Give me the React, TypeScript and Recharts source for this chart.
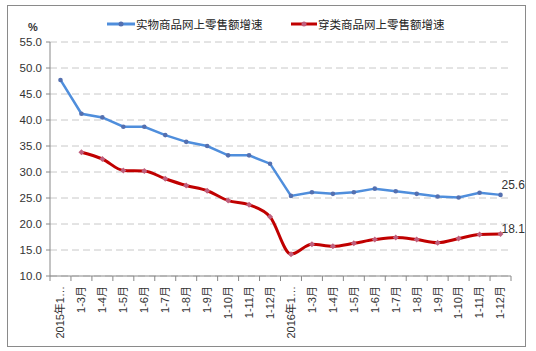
import { LineChart, Line, XAxis, YAxis, CartesianGrid, LabelList, Label } from "recharts"

// 分类（月份累计）
const months = [
  "2015年1…", "1-3月", "1-4月", "1-5月", "1-6月", "1-7月", "1-8月", "1-9月", "1-10月", "1-11月", "1-12月",
  "2016年1…", "1-3月", "1-4月", "1-5月", "1-6月", "1-7月", "1-8月", "1-9月", "1-10月", "1-11月", "1-12月",
]

// 实物商品网上零售额增速 (%)
const physicalGoods = [
  47.7, 41.2, 40.5, 38.7, 38.7, 37.1, 35.8, 35.0, 33.2, 33.2, 31.6,
  25.4, 26.1, 25.8, 26.1, 26.8, 26.3, 25.8, 25.3, 25.1, 26.0, 25.6,
]

// 穿类商品网上零售额增速 (%)
const clothingGoods = [
  null, 33.8, 32.5, 30.3, 30.2, 28.7, 27.4, 26.4, 24.5, 23.7, 21.4,
  14.2, 16.1, 15.7, 16.3, 17.0, 17.4, 17.0, 16.4, 17.2, 18.0, 18.1,
]

const yTicks = [10, 15, 20, 25, 30, 35, 40, 45, 50, 55]

const seriesNames = ["实物商品网上零售额增速", "穿类商品网上零售额增速"]

const BLUE = "#4F8EDC"
const RED = "#C00000"
const FONT = "'Liberation Sans', 'Noto Sans CJK SC', sans-serif"

const data = months.map((name, i) => ({
  name,
  physical: physicalGoods[i],
  clothing: clothingGoods[i],
}))

const lastIndex = data.length - 1

// plot is 461px wide; half a category slot on each side, like a category axis in Excel
const PLOT_W = 461
const HALF_SLOT = PLOT_W / (2 * data.length)

function MonthTick(props: any) {
  const { x, y, payload, index } = props
  const axisY = y - 10
  return (
    <g>
      <line x1={x - HALF_SLOT} x2={x - HALF_SLOT} y1={axisY} y2={axisY + 5} stroke="#888" />
      {index === lastIndex && (
        <line x1={x + HALF_SLOT} x2={x + HALF_SLOT} y1={axisY} y2={axisY + 5} stroke="#888" />
      )}
      <text
        x={x}
        y={y}
        transform={`rotate(-90 ${x} ${y})`}
        textAnchor="end"
        dy="0.35em"
        fontSize={11}
        fill="#333"
        fontFamily={FONT}
      >
        {payload.value}
      </text>
    </g>
  )
}

function EndLabel(offsetY: number) {
  return (p: any) => {
    if (p.index !== lastIndex) return null
    return (
      <text x={p.x + 1} y={p.y + offsetY} fontSize={12} fill="#333" fontFamily={FONT}>
        {Number(p.value).toFixed(1)}
      </text>
    )
  }
}

function RedDot(p: any) {
  const { cx, cy } = p
  if (cx == null || cy == null || p.value == null) return <g />
  return <path d={`M${cx},${cy - 3}L${cx + 3},${cy}L${cx},${cy + 3}L${cx - 3},${cy}Z`} fill="#C0607E" />
}

function LegendItem({ left, color, width, label, dotColor }: any) {
  return (
    <div style={{ position: "absolute", left, top: 15, display: "flex", alignItems: "center", height: 18 }}>
      <svg width={width} height={10}>
        <line x1={0} x2={width} y1={5} y2={5} stroke={color} strokeWidth={3} />
        <circle cx={width / 2} cy={5} r={2.5} fill={dotColor} />
      </svg>
      <span style={{ fontSize: 11.5, color: "#222", fontFamily: FONT, marginLeft: 1, whiteSpace: "nowrap" }}>{label}</span>
    </div>
  )
}

export default function App() {
  return (
    <div style={{ position: "absolute", left: 0, top: 0, width: 536, height: 351, background: "#fff" }}>
      <div
        style={{
          position: "absolute",
          left: 7,
          top: 5,
          width: 517,
          height: 340,
          border: "1px solid #8a8a8a",
        }}
      />
      <LegendItem left={107} color={BLUE} width={28} label={seriesNames[0]} dotColor="#5470B0" />
      <LegendItem left={291} color={RED} width={26} label={seriesNames[1]} dotColor="#C0607E" />
      <div style={{ position: "absolute", left: 0, top: 0 }}>
        <LineChart width={536} height={351} data={data} margin={{ top: 42, right: 25, bottom: 0, left: 8 }}>
          <CartesianGrid vertical={false} stroke="#C8C8C8" strokeDasharray="7 4" />
          <XAxis
            dataKey="name"
            padding={{ left: HALF_SLOT, right: HALF_SLOT }}
            height={75}
            interval={0}
            tickLine={false}
            tickSize={5}
            tickMargin={5}
            axisLine={{ stroke: "#888" }}
            tick={<MonthTick />}
          />
          <YAxis
            width={42}
            domain={[10, 55]}
            ticks={yTicks}
            interval={0}
            tickSize={4}
            tickMargin={4}
            tickFormatter={(v: number) => v.toFixed(1)}
            axisLine={{ stroke: "#888" }}
            tickLine={{ stroke: "#888" }}
            tick={{ fontSize: 11.5, fill: "#333", fontFamily: FONT }}
          >
            <Label
              content={({ viewBox }: any) => (
                <text
                  x={viewBox.x + viewBox.width - 17}
                  y={viewBox.y - 11}
                  textAnchor="middle"
                  fontSize={11}
                  fontWeight="bold"
                  fill="#333"
                  fontFamily={FONT}
                >
                  %
                </text>
              )}
            />
          </YAxis>
          <Line
            type="linear"
            dataKey="physical"
            name={seriesNames[0]}
            stroke={BLUE}
            strokeWidth={2.5}
            dot={{ r: 2.3, fill: "#5470B0", stroke: "#5470B0", strokeWidth: 0 }}
            isAnimationActive={false}
          >
            <LabelList dataKey="physical" content={EndLabel(-6)} />
          </Line>
          <Line
            type="monotone"
            dataKey="clothing"
            name={seriesNames[1]}
            stroke={RED}
            strokeWidth={3}
            dot={<RedDot />}
            isAnimationActive={false}
          >
            <LabelList dataKey="clothing" content={EndLabel(-1)} />
          </Line>
        </LineChart>
      </div>
    </div>
  )
}
